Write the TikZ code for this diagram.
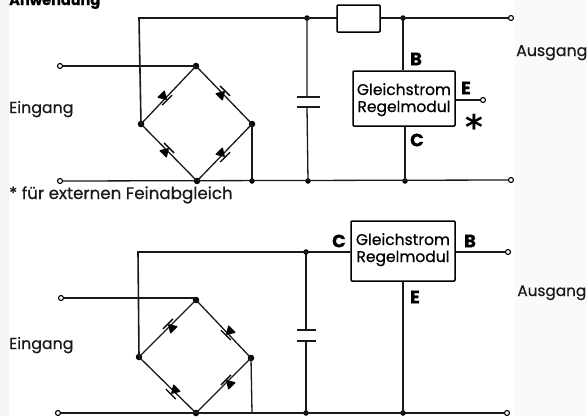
\documentclass[tikz,border=0pt]{standalone}
\usepackage{fontspec}
\setmainfont{Poppins}[FakeBold=0.5]
\newfontfamily\starfont{DejaVu Sans Bold}
\tikzset{
  wire/.style={line width=1.3pt,black!90},
  thick wire/.style={line width=1.6pt,black!90},
  dot/.style={circle,fill=black,inner sep=0pt,minimum size=6.5pt},
  term/.style={circle,draw=black,fill=white,line width=1.1pt,inner sep=0pt,minimum size=5pt},
  modul/.style={draw=black,line width=1.5pt,fill=white,inner sep=0pt,rounded corners=1pt},
  res/.style={draw=black,line width=1.5pt,fill=white,inner sep=0pt,rounded corners=1pt,minimum width=43pt,minimum height=27pt},
  lab/.style={font=\fontsize{15.8}{17}\selectfont,inner sep=0pt,text=black!90},
  modtxt/.style={font=\fontsize{15.5}{17}\selectfont,inner sep=0pt,text=black},
  pin/.style={font=\fontsize{18}{20}\bfseries\selectfont,inner sep=0pt},
  note/.style={font=\fontsize{16.7}{18}\selectfont,inner sep=0pt,text=black!90},
  plate/.style={line width=1.5pt,black!90},
  pics/diode/.style={code={
    \fill[black,rounded corners=1pt] (-6,-5.5) -- (-6,5.5) -- (3,0) -- cycle;
    \draw[line width=1.4pt] (3,-7) -- (3,7);
  }},
}
\begin{document}
\begin{tikzpicture}[x=1pt,y=-1pt]
\useasboundingbox (0,0) rectangle (587,416);
\fill[black!4] (0,0) rectangle (9,416);
\fill[black!2] (515,0) rectangle (587,416);
% ---------- upper circuit
\node[font=\fontsize{14.5}{16}\bfseries\selectfont,inner sep=0pt,anchor=base west] (title) at (9,5) {Anwendung};
\node[lab,anchor=base west] (ein1) at (9,113) {Eingang};
\node[lab,anchor=base west] (aus1) at (516,56) {Ausgang};
\node[note,anchor=base west] (fn) at (9,199) {* für externen Feinabgleich};
\node[term] (i1) at (60,66) {};
\node[term] (i2) at (60,181) {};
\node[term] (o1) at (511,18) {};
\node[term] (o2) at (511,180) {};
\node[term] (eo) at (483,100) {};
\node[dot] (t) at (196,66) {};
\node[dot] (l) at (141,124) {};
\node[dot] (r) at (252,124) {};
\node[dot] (b) at (197,181) {};
\node[dot,minimum size=5.5pt] (br) at (252,181) {};
\node[dot,minimum size=5.5pt] (c1) at (307,18) {};
\node[dot,minimum size=5.5pt] (c2) at (308,181) {};
\node[dot,minimum size=5.5pt] (m1) at (403,18) {};
\node[dot,minimum size=5.5pt] (m2) at (405,181) {};
\coordinate (tl) at (139,18);
\coordinate (p1) at (307,97);
\coordinate (p2) at (307,107);
\draw[thick wire] (l.center) -- (tl) -- (m1.center) -- (o1);
\draw[wire] (i1) -- (t.center);
\draw[wire] (i2) -- (o2);
\draw[wire] (t.center) -- (r.center) -- (b.center) -- (l.center) -- cycle;
\draw[wire] (r.center) -- (br.center);
\draw[wire] (c1.center) -- (p1) (p2) -- (c2.center);
\draw[plate] (297,97) -- (320,97) (297,107) -- (320,107);
\node[res] (rs) at (358.5,18.5) {};
\node[modul,minimum width=102pt,minimum height=55pt] (mod1) at (404,98.5) {};
\node[modtxt,anchor=base] (g1) at (404,95) {Gleichstrom};
\node[modtxt,anchor=base] (g2) at (404,112) {Regelmodul};
\draw[wire] (m1.center) -- (mod1.north -| m1) (mod1.south -| m2) -- (m2.center);
\draw[wire] (mod1.east |- eo) -- (eo);
\node[pin] (pb) at (416,59) {B};
\node[pin] (pe) at (466,88) {E};
\node[pin] (pc) at (417,140) {C};
\node[font=\starfont\fontsize{34}{34}\selectfont,inner sep=0pt,anchor=base] (st) at (474,139) {*};
\path (165,98) pic[rotate=-45] {diode};
\path (223,93) pic[rotate=45] {diode};
\path (167,150) pic[rotate=45] {diode};
\path (223,155) pic[rotate=-45] {diode};
% ---------- lower circuit
\node[lab,anchor=base west] (ein2) at (9,349) {Eingang};
\node[lab,anchor=base east,font=\fontsize{15.3}{17}\selectfont] (aus2) at (586.5,296) {Ausgang};
\node[term] (j1) at (61,298) {};
\node[term] (j2) at (58,413) {};
\node[term] (q1) at (508,252) {};
\node[term] (q2) at (507,413) {};
\node[dot] (T) at (196,300) {};
\node[dot] (L) at (139,357) {};
\node[dot] (R) at (251,358) {};
\node[dot] (B) at (196,413) {};
\node[dot,minimum size=5.5pt] (d1) at (306,252) {};
\node[dot,minimum size=5.5pt] (d2) at (306,413) {};
\node[dot,minimum size=5.5pt] (n2) at (403,413) {};
\coordinate (TL) at (138,252);
\coordinate (jt) at (196,298);
\coordinate (Rb) at (252,413);
\coordinate (P1) at (306,330);
\coordinate (P2) at (306,341);
\node[modul,minimum width=104pt,minimum height=60pt] (mod2) at (403,251) {};
\node[modtxt,anchor=base] (h1) at (403,245) {Gleichstrom};
\node[modtxt,anchor=base] (h2) at (403,262) {Regelmodul};
\draw[thick wire] (L.center) -- (TL) -- (mod2.west |- TL);
\draw[thick wire] (mod2.east |- q1) -- (q1);
\draw[wire] (j1) -- (jt);
\draw[wire] (j2) -- (q2);
\draw[wire] (T.center) -- (R.center) -- (B.center) -- (L.center) -- cycle;
\draw[wire] (R.center) -- (Rb);
\draw[wire] (d1.center) -- (P1) (P2) -- (d2.center);
\draw[plate] (297,330) -- (316,330) (297,341) -- (316,341);
\draw[wire] (mod2.south -| n2) -- (n2.center);
\node[pin] (qc) at (339,241) {C};
\node[pin] (qb) at (470,241) {B};
\node[pin] (qe) at (415,297) {E};
\path (170,326) pic[rotate=135] {diode};
\path (228,333) pic[rotate=225] {diode};
\path (173,392) pic[rotate=225] {diode};
\path (228,382) pic[rotate=135] {diode};
\end{tikzpicture}
\end{document}
